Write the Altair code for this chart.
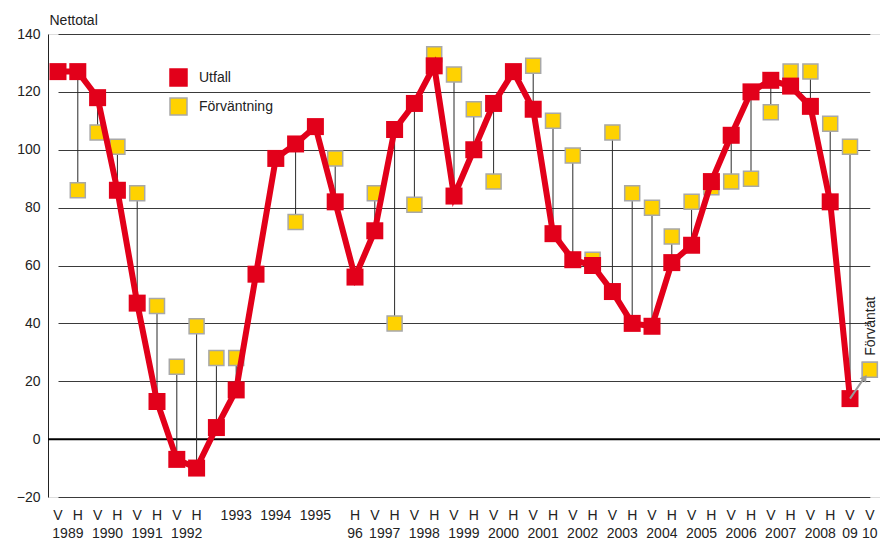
import altair as alt
import pandas as pd

categories = ["V89", "H89", "V90", "H90", "V91", "H91", "V92", "H92", "V93", "H93",
              "V94", "H94", "V95", "H95", "V96", "H96", "V97", "H97", "V98", "H98",
              "V99", "H99", "V00", "H00", "V01", "H01", "V02", "H02", "V03", "H03",
              "V04", "H04", "V05", "H05", "V06", "H06", "V07", "H07", "V08", "H08",
              "V09", "V10"]
half_labels = ["V", "H", "V", "H", "V", "H", "V", "H", "", "1993",
               "", "1994", "", "1995", "", "H", "V", "H", "V", "H",
               "V", "H", "V", "H", "V", "H", "V", "H", "V", "H",
               "V", "H", "V", "H", "V", "H", "V", "H", "V", "H",
               "V", "V"]
utfall = [127, 127, 118, 86, 47, 13, -7, -10, 4, 17,
          57, 97, 102, 108, 82, 56, 72, 107, 116, 129,
          84, 100, 116, 127, 114, 71, 62, 60, 51, 40,
          39, 61, 67, 89, 105, 120, 124, 122, 115, 82,
          14, None]
forvantning = [None, 86, 106, 101, 85, 46, 25, 39, 28, 28,
               None, None, 75, None, 97, None, 85, 40, 81, 133,
               126, 114, 89, None, 129, 110, 98, 62, 106, 85,
               80, 70, 82, 87, 89, 90, 113, 127, 127, 109,
               101, 24]
year_pair_labels = ["1989", "1990", "1991", "1992", "1997", "1998", "1999", "2000",
                    "2001", "2002", "2003", "2004", "2005", "2006", "2007", "2008"]
year_pair_cats = ["V89", "V90", "V91", "V92", "V97", "V98", "V99", "V00",
                  "V01", "V02", "V03", "V04", "V05", "V06", "V07", "V08"]
year_single_labels = ["96", "09", "10"]
year_single_cats = ["H96", "V09", "V10"]
series_names = ["Utfall", "Förväntning"]
annotation_text = "Förväntat"
annotation_value = 39

RED = "#e2001a"
YELLOW = "#ffd200"
GREY = "#a8a8a8"
FONT = "Liberation Sans"

W, H = 832, 463
STEP = 19.8

df = pd.DataFrame({"cat": categories, "half": half_labels,
                   "Utfall": utfall, "Förväntning": forvantning})

long_rows = []
for c, u, f in zip(categories, utfall, forvantning):
    if u is not None:
        long_rows.append({"cat": c, "series": "Utfall", "value": u})
    if f is not None:
        long_rows.append({"cat": c, "series": "Förväntning", "value": f})
long_df = pd.DataFrame(long_rows)

stems = pd.DataFrame([{"cat": c, "u": u, "f": f}
                      for c, u, f in zip(categories, utfall, forvantning)
                      if u is not None and f is not None])

arrow_df = pd.DataFrame([{"from": categories[-2], "to": categories[-1],
                          "u": utfall[-2], "f": forvantning[-1],
                          "label": annotation_text, "ty": annotation_value}])

years_pair_df = pd.DataFrame({"cat": year_pair_cats, "label": year_pair_labels})
years_single_df = pd.DataFrame({"cat": year_single_cats, "label": year_single_labels})

xscale = alt.Scale(type="point", domain=categories, padding=0,
                   range=[10, 10 + STEP * (len(categories) - 1)])
yscale = alt.Scale(domain=[-20, 140], nice=False, zero=False)
X = alt.X("cat:N", scale=xscale, axis=None)

yaxis = alt.Axis(values=list(range(-20, 141, 20)), grid=True, gridColor="#3a3a3a",
                 gridWidth=1, domain=True, domainColor="#222", domainWidth=1,
                 ticks=False, labelPadding=8, labelFontSize=14, labelColor="#222",
                 labelFont=FONT, title="Nettotal", titleAngle=0, titleX=1, titleY=-10,
                 titleAlign="left", titleBaseline="alphabetic", titleFontSize=14,
                 titleFontWeight="normal", titleFont=FONT, titleColor="#222")

legend = alt.Legend(title=None, orient="none", legendX=121, legendY=34,
                    symbolType="square", symbolSize=289,
                    symbolStrokeWidth=1.5, labelFontSize=14,
                    labelFont=FONT, labelColor="#222",
                    rowPadding=6, labelOffset=11)

base_grid = alt.Chart(df).mark_point(opacity=0).encode(
    x=X, y=alt.Y("Utfall:Q", scale=yscale, axis=yaxis))

zero = alt.Chart(pd.DataFrame({"y": [0]})).mark_rule(color="#000", strokeWidth=2).encode(
    y=alt.Y("y:Q", scale=yscale))

stem_layer = alt.Chart(stems).mark_rule(color="#2a2a2a", strokeWidth=1).encode(
    x=X, y=alt.Y("u:Q", scale=yscale), y2="f:Q")

fill_enc = alt.Fill("series:N", scale=alt.Scale(domain=series_names, range=[RED, YELLOW]),
                    legend=legend)
stroke_enc = alt.Stroke("series:N", scale=alt.Scale(domain=series_names, range=[RED, GREY]),
                        legend=legend)

yellow_layer = alt.Chart(long_df).transform_filter(
    alt.datum.series == "Förväntning").mark_square(size=225, strokeWidth=1.5, opacity=1).encode(
    x=X, y=alt.Y("value:Q", scale=yscale), fill=fill_enc, stroke=stroke_enc)

line_layer = alt.Chart(df).transform_filter("isValid(datum.Utfall)").mark_line(
    color=RED, strokeWidth=6).encode(x=X, y=alt.Y("Utfall:Q", scale=yscale))

red_layer = alt.Chart(long_df).transform_filter(
    alt.datum.series == "Utfall").mark_square(size=289, strokeWidth=0, opacity=1).encode(
    x=X, y=alt.Y("value:Q", scale=yscale), fill=fill_enc, stroke=stroke_enc)

arrow_line = alt.Chart(arrow_df).mark_rule(color="#9a9a9a", strokeWidth=2).encode(
    x=alt.X("from:N", scale=xscale, axis=None), x2="to:N",
    y=alt.Y("u:Q", scale=yscale), y2="f:Q")
arrow_yellow = alt.Chart(arrow_df).mark_square(size=225, strokeWidth=1.5, opacity=1,
                                               fill=YELLOW, stroke=GREY).encode(
    x=alt.X("to:N", scale=xscale, axis=None), y=alt.Y("f:Q", scale=yscale))
arrow_head = alt.Chart(arrow_df).mark_point(shape="triangle-up", filled=True, size=60,
                                            angle=35, color="#9a9a9a", opacity=1,
                                            xOffset=-5, yOffset=8).encode(
    x=alt.X("to:N", scale=xscale, axis=None), y=alt.Y("f:Q", scale=yscale))
arrow_text = alt.Chart(arrow_df).mark_text(angle=270, fontSize=14, font=FONT, color="#222",
                                           align="center", baseline="middle",
                                           xOffset=1).encode(
    x=alt.X("to:N", scale=xscale, axis=None), y=alt.Y("ty:Q", scale=yscale), text="label:N")

half_text = alt.Chart(df).mark_text(fontSize=14, font=FONT, color="#222", align="center",
                                    baseline="alphabetic").encode(
    x=X, y=alt.value(H + 23), text="half:N")
year_pair_text = alt.Chart(years_pair_df).mark_text(fontSize=14, font=FONT, color="#222",
                                                    align="center", baseline="alphabetic",
                                                    dx=STEP / 2).encode(
    x=X, y=alt.value(H + 41), text="label:N")
year_single_text = alt.Chart(years_single_df).mark_text(fontSize=14, font=FONT, color="#222",
                                                        align="center",
                                                        baseline="alphabetic").encode(
    x=X, y=alt.value(H + 41), text="label:N")

chart = alt.layer(
    base_grid, zero, stem_layer, yellow_layer, line_layer, red_layer,
    arrow_line, arrow_yellow, arrow_head, arrow_text,
    half_text, year_pair_text, year_single_text
).properties(
    width=W, height=H,
    autosize=alt.AutoSizeParams(type="none"),
    padding={"left": 40, "top": 26, "right": 0, "bottom": 44},
).configure_view(stroke=None).configure(font=FONT)

chart.save("out.html", embed_options={"renderer": "svg", "actions": False})
